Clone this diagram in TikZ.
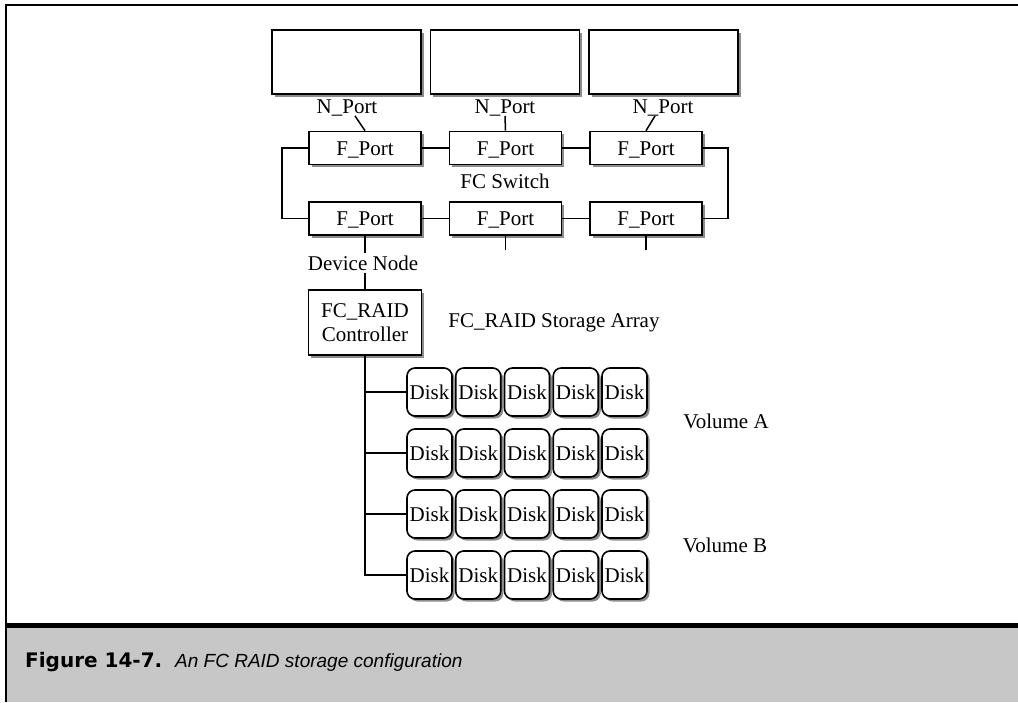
\documentclass[tikz,border=0pt]{standalone}
\usepackage{fontspec}
\setmainfont{Liberation Serif}
\newfontfamily\capbf{DejaVu Sans}
\newfontfamily\capit{Liberation Sans}
\usetikzlibrary{shadows}
\begin{document}
\begin{tikzpicture}[x=1pt,y=-1pt,
  every node/.style={font=\fontsize{21}{24}\selectfont},
  lbl/.style={inner sep=0pt, anchor=base},
  shad/.style={drop shadow={shadow xshift=2.5pt, shadow yshift=-2.5pt, fill=black!45, opacity=1}},
  hostbox/.style={draw, line width=1.6pt, fill=white, shad, minimum width=149pt, minimum height=64pt, inner sep=0pt},
  portbox/.style={draw, line width=1.6pt, fill=white, shad, minimum width=112pt, minimum height=33pt, inner sep=0pt, text height=14pt, text depth=0pt},
  ctrlbox/.style={draw, line width=1.6pt, fill=white, shad, minimum width=113pt, minimum height=65pt, inner sep=0pt, align=center},
  diskbox/.style={draw, line width=1.6pt, fill=white, shad, rounded corners=8pt, minimum width=45pt, minimum height=48pt, inner sep=0pt, text height=15pt, text depth=0pt},
  conn/.style={line width=1.5pt}
]
\useasboundingbox (0,0) rectangle (1018,702);
% frame and caption band
\fill[black!22] (6,628) rectangle (1018,702);
\draw[line width=5pt] (6,625.5) -- (1018,625.5);
\draw[line width=2.5pt] (5,5) -- (1018,5);
\draw[line width=2.5pt] (6,4) -- (6,702);
\node[inner sep=0pt, anchor=base west] (cap1) at (25,667) {\capbf\bfseries\fontsize{20}{24}\selectfont Figure 14-7.};
\node[inner sep=0pt, anchor=base west] (cap2) at (175,667) {\capit\itshape\fontsize{19}{24}\selectfont An FC RAID storage configuration};

% hosts
\node[hostbox] (h1) at (346.5,62) {};
\node[hostbox] (h2) at (505,62) {};
\node[hostbox] (h3) at (663.5,62) {};
\node[lbl] (n1) at (347,113) {N\_Port};
\node[lbl] (n2) at (505,113) {N\_Port};
\node[lbl] (n3) at (663,113) {N\_Port};

% switch ports
\node[portbox] (f11) at (365,148) {F\_Port};
\node[portbox] (f12) at (505.5,148) {F\_Port};
\node[portbox] (f13) at (646,148) {F\_Port};
\node[portbox] (f21) at (365,218.5) {F\_Port};
\node[portbox] (f22) at (505.5,218.5) {F\_Port};
\node[portbox] (f23) at (646,218.5) {F\_Port};
\node[lbl] (sw) at (505,188) {FC Switch};

\draw[conn] ([xshift=8pt]n1.south) -- (f11.north);
\draw[conn] (n2.south) -- (f12.north);
\draw[conn] ([xshift=-8pt]n3.south) -- (f13.north);
\draw[conn] (f11.east) -- (f12.west);
\draw[conn] (f12.east) -- (f13.west);
\draw[conn] (f21.east) -- (f22.west);
\draw[conn] (f22.east) -- (f23.west);
\coordinate (lx) at (282,0);
\coordinate (rx) at (728,0);
\draw[conn] (f11.west) -- (f11.west -| lx) -- (f21.west -| lx) -- (f21.west);
\draw[conn] (f13.east) -- (f13.east -| rx) -- (f23.east -| rx) -- (f23.east);
\coordinate (s2) at (505.5,250);
\coordinate (s3) at (646,250);
\draw[conn] (f22.south) -- (s2);
\draw[conn] (f23.south) -- (s3);

% device node and controller
\node[lbl, outer sep=2.5pt] (dev) at (363,270) {Device Node};
\node[ctrlbox] (ctrl) at (365,322.5) {FC\_RAID\\Controller};
\node[lbl] (arr) at (554,327) {FC\_RAID Storage Array};
\draw[conn] (f21.south) -- (f21.south |- dev.north);
\draw[conn] (dev.south -| ctrl.north) -- (ctrl.north);

% disks
\foreach \r/\y in {1/392,2/453,3/514,4/575}{
  \foreach \c in {1,...,5}{
    \node[diskbox] (d\r\c) at ({429.5+(\c-1)*48.75},\y) {Disk};
  }
}
\draw[conn] (ctrl.south) -- (ctrl.south |- d41.west) -- (d41.west);
\draw[conn] (ctrl.south |- d11.west) -- (d11.west);
\draw[conn] (ctrl.south |- d21.west) -- (d21.west);
\draw[conn] (ctrl.south |- d31.west) -- (d31.west);

\node[lbl] (va) at (726,428) {Volume A};
\node[lbl] (vb) at (725,552) {Volume B};
\end{tikzpicture}
\end{document}
